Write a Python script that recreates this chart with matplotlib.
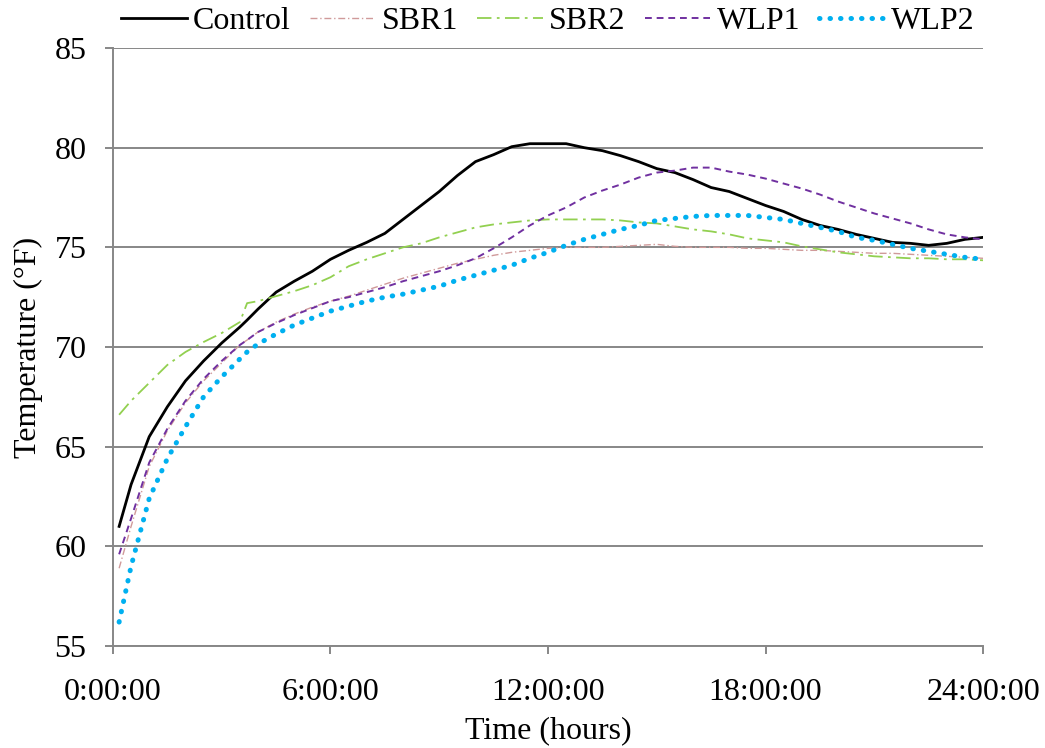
import numpy as np
import matplotlib
matplotlib.use("Agg")
import matplotlib.pyplot as plt

plt.rcParams['font.family'] = ['Liberation Serif', 'DejaVu Serif']

# time in hours
hours = [0.17, 0.5, 1.0, 1.5, 2.0, 2.5, 3.0, 3.5, 3.7, 4.0, 4.5, 5.0, 5.5,
         6.0, 6.5, 7.0, 7.5, 8.0, 8.5, 9.0, 9.5, 10.0, 10.5, 11.0, 11.5,
         12.0, 12.5, 13.0, 13.5, 14.0, 14.5, 15.0, 15.5, 16.0, 16.5, 17.0,
         17.5, 18.0, 18.5, 19.0, 19.5, 20.0, 20.5, 21.0, 21.5, 22.0, 22.5,
         23.0, 23.5, 24.0]

control = [61.0, 63.1, 65.5, 67.0, 68.3, 69.3, 70.2, 71.0, 71.35, 71.9, 72.75,
           73.3, 73.8, 74.4, 74.85, 75.25, 75.7, 76.4, 77.1, 77.8, 78.6, 79.3,
           79.65, 80.05, 80.2, 80.2, 80.2, 80.0, 79.85, 79.6, 79.3, 78.95,
           78.75, 78.4, 78.0, 77.8, 77.45, 77.1, 76.8, 76.4, 76.1, 75.9,
           75.65, 75.45, 75.25, 75.2, 75.1, 75.2, 75.4, 75.5]

sbr1 = [58.9, 61.0, 64.0, 65.8, 67.2, 68.3, 69.2, 70.1, 70.35, 70.75, 71.25,
        71.65, 72.0, 72.3, 72.55, 72.85, 73.15, 73.45, 73.7, 73.95, 74.2,
        74.4, 74.6, 74.75, 74.85, 74.95, 75.0, 75.0, 75.0, 75.05, 75.1,
        75.15, 75.05, 75.0, 75.0, 75.0, 74.95, 74.95, 74.9, 74.85, 74.85,
        74.8, 74.75, 74.7, 74.7, 74.65, 74.6, 74.55, 74.5, 74.45]

sbr2 = [66.6, 67.3, 68.2, 69.1, 69.75, 70.25, 70.7, 71.25, 72.2, 72.3, 72.55,
        72.8, 73.1, 73.5, 74.05, 74.4, 74.7, 75.0, 75.2, 75.5, 75.75, 76.0,
        76.15, 76.25, 76.35, 76.4, 76.4, 76.4, 76.4, 76.35, 76.25, 76.2,
        76.05, 75.9, 75.8, 75.65, 75.45, 75.35, 75.25, 75.05, 74.9, 74.75,
        74.65, 74.55, 74.5, 74.45, 74.45, 74.4, 74.4, 74.35]

wlp1 = [59.6, 61.4, 64.2, 65.9, 67.3, 68.4, 69.3, 70.1, 70.35, 70.75, 71.2,
        71.6, 71.95, 72.3, 72.5, 72.75, 73.0, 73.3, 73.55, 73.8, 74.1, 74.45,
        74.95, 75.5, 76.1, 76.6, 77.0, 77.5, 77.85, 78.15, 78.5, 78.75,
        78.85, 79.0, 79.0, 78.8, 78.65, 78.45, 78.2, 77.95, 77.65, 77.3,
        77.0, 76.7, 76.45, 76.2, 75.9, 75.65, 75.5, 75.4]

wlp2 = [56.2, 59.0, 62.4, 64.4, 66.0, 67.5, 68.5, 69.4, 69.75, 70.15, 70.65,
        71.1, 71.45, 71.8, 72.05, 72.3, 72.5, 72.65, 72.85, 73.05, 73.35,
        73.6, 73.85, 74.1, 74.45, 74.75, 75.1, 75.4, 75.65, 75.9, 76.1,
        76.35, 76.45, 76.55, 76.6, 76.6, 76.6, 76.5, 76.4, 76.2, 76.0, 75.8,
        75.5, 75.35, 75.15, 74.95, 74.8, 74.65, 74.5, 74.4]

xticks = [0, 6, 12, 18, 24]
xticklabels = ['0:00:00', '6:00:00', '12:00:00', '18:00:00', '24:00:00']
yticks = [55, 60, 65, 70, 75, 80, 85]

grey = '#878787'

fig = plt.figure(figsize=(10.45, 7.48), dpi=100)
ax = fig.add_axes([0.1081, 0.1364, 0.8326, 0.7994])

ax.plot(hours, control, color='black', lw=2.0, label='Control')
ax.plot(hours, sbr1, color='#D09A9A', lw=1.0, linestyle=(0, (5, 2, 1, 2)),
        label='SBR1')
ax.plot(hours, sbr2, color='#92D050', lw=1.3, linestyle=(0, (8, 3, 1.5, 3)),
        label='SBR2')
ax.plot(hours, wlp1, color='#7030A0', lw=1.4, linestyle=(0, (3.5, 2.5)),
        label='WLP1')
ax.plot(hours, wlp2, color='#00B0F0', lw=3.6, linestyle=(0, (0.1, 2.0)),
        dash_capstyle='round', label='WLP2')

ax.set_xlim(0, 24)
ax.set_ylim(55, 85)
ax.set_xticks(xticks)
ax.set_xticklabels(xticklabels)
ax.set_yticks(yticks)
ax.yaxis.grid(True, color=grey, lw=1.4)
ax.set_axisbelow(True)

for s in ['top', 'right']:
    ax.spines[s].set_visible(False)
for s in ['left', 'bottom']:
    ax.spines[s].set_color(grey)
    ax.spines[s].set_linewidth(1.4)

ax.tick_params(axis='both', colors=grey, length=6, width=1.4,
               labelsize=23, labelcolor='black')
ax.tick_params(axis='x', pad=17)
ax.tick_params(axis='y', pad=13)

ax.set_xlabel('Time (hours)', fontsize=23, labelpad=7)
ax.set_ylabel('Temperature (°F)', fontsize=23, labelpad=8)

ax.legend(loc='center', bbox_to_anchor=(0.5, 1.045), ncol=5, frameon=False,
          fontsize=23, handlelength=2.05, handletextpad=0.2,
          columnspacing=0.6, borderaxespad=0)

fig.savefig('out.png', dpi=100)
